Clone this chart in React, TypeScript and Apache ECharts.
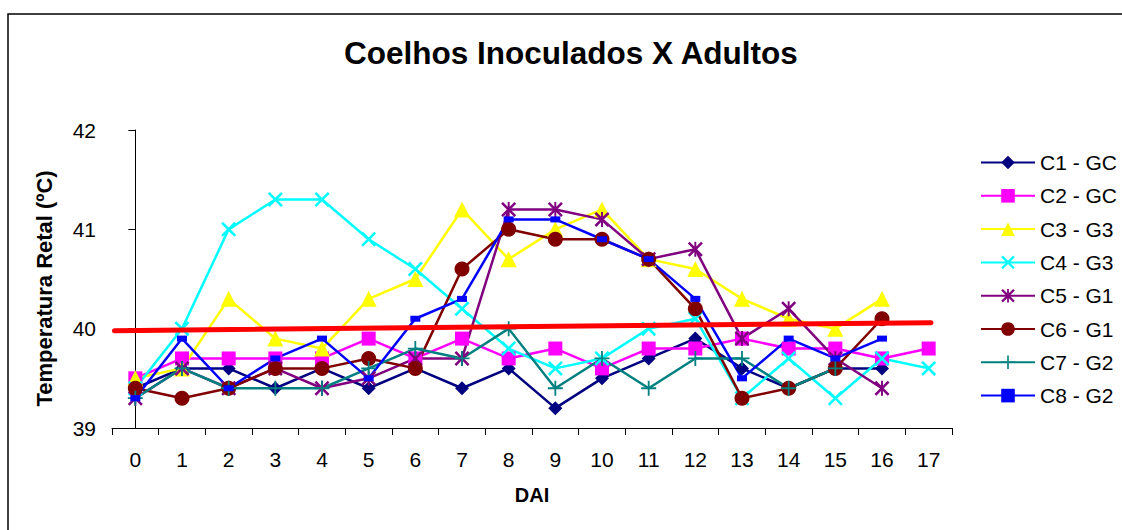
import React, { useEffect, useRef } from "react";
import * as echarts from "echarts";

const categories = ["0","1","2","3","4","5","6","7","8","9","10","11","12","13","14","15","16","17"];
const c1 = [39.4, 39.6, 39.6, 39.4, 39.6, 39.4, 39.6, 39.4, 39.6, 39.2, 39.5, 39.7, 39.9, 39.6, 39.4, 39.6, 39.6, null];
const c2 = [39.5, 39.7, 39.7, 39.7, 39.7, 39.9, 39.7, 39.9, 39.7, 39.8, 39.6, 39.8, 39.8, 39.9, 39.8, 39.8, 39.7, 39.8];
const c3 = [39.5, 39.6, 40.3, 39.9, 39.8, 40.3, 40.5, 41.2, 40.7, 41.0, 41.2, 40.7, 40.6, 40.3, 40.1, 40.0, 40.3, null];
const c4 = [39.4, 40.0, 41.0, 41.3, 41.3, 40.9, 40.6, 40.2, 39.8, 39.6, 39.7, 40.0, 40.1, 39.3, 39.7, 39.3, 39.7, 39.6];
const c5 = [39.3, 39.6, 39.4, 39.6, 39.4, 39.5, 39.7, 39.7, 41.2, 41.2, 41.1, 40.7, 40.8, 39.9, 40.2, 39.7, 39.4, null];
const c6 = [39.4, 39.3, 39.4, 39.6, 39.6, 39.7, 39.6, 40.6, 41.0, 40.9, 40.9, 40.7, 40.2, 39.3, 39.4, 39.6, 40.1, null];
const c7 = [39.3, 39.6, 39.4, 39.4, 39.4, 39.6, 39.8, 39.7, 40.0, 39.4, 39.7, 39.4, 39.7, 39.7, 39.4, 39.6, null, null];
const c8 = [39.3, 39.9, 39.4, 39.7, 39.9, 39.5, 40.1, 40.3, 41.1, 41.1, 40.9, 40.7, 40.3, 39.5, 39.9, 39.7, 39.9, null];
const seriesNames = ["C1 - GC", "C2 - GC", "C3 - G3", "C4 - G3", "C5 - G1", "C6 - G1", "C7 - G2", "C8 - G2"];
const refLineX = [-0.45, 17.05];
const refLineY = [39.98, 40.06];
const yTicks = [39, 40, 41, 42];

const X_PATH = "path://M0,1.2 L1.2,0 L5,3.8 L8.8,0 L10,1.2 L6.2,5 L10,8.8 L8.8,10 L5,6.2 L1.2,10 L0,8.8 L3.8,5 Z";
const STAR_PATH = "path://M0,1.2 L1.2,0 L5,3.8 L8.8,0 L10,1.2 L6.2,5 L10,8.8 L8.8,10 L5,6.2 L1.2,10 L0,8.8 L3.8,5 Z M4.35,0 L5.65,0 L5.65,10 L4.35,10 Z";
const PLUS_PATH = "path://M4.4,0 L5.6,0 L5.6,4.4 L10,4.4 L10,5.6 L5.6,5.6 L5.6,10 L4.4,10 L4.4,5.6 L0,5.6 L0,4.4 L4.4,4.4 Z";

export default function App() {
  const ref = useRef<HTMLDivElement>(null);
  useEffect(() => {
    if (!ref.current) return;
    const chart = echarts.init(ref.current, null, { renderer: "svg" });
    const datas = [c1, c2, c3, c4, c5, c6, c7, c8];
    const colors = ["#000080", "#FF00FF", "#FFFF00", "#00FFFF", "#800080", "#800000", "#008080", "#0000FF"];
    const symbols = ["diamond", "rect", "triangle", X_PATH, STAR_PATH, "circle", PLUS_PATH, "rect"];
    const sizes: any[] = [14, 14, 16, 15, 15, 15, 15, [10, 6]];
    const series: any[] = datas.map((d, i) => ({
      name: seriesNames[i],
      type: "line",
      data: d,
      xAxisIndex: 0,
      yAxisIndex: 0,
      symbol: symbols[i],
      symbolSize: sizes[i],
      showAllSymbol: true,
      connectNulls: false,
      color: colors[i],
      lineStyle: { width: 2.5, color: colors[i] },
      itemStyle: { color: colors[i], opacity: 1 },
      emphasis: { disabled: true },
    }));
    series.push({
      name: "ref",
      type: "line",
      xAxisIndex: 1,
      yAxisIndex: 0,
      data: refLineX.map((x, i) => [x, refLineY[i]]),
      symbol: "none",
      lineStyle: { width: 5, color: "#FF0000", cap: "round" },
      color: "#FF0000",
      z: 5,
    });
    chart.setOption({
      animation: false,
      backgroundColor: "#FFFFFF",
      textStyle: { fontFamily: "Liberation Sans, Arial, sans-serif" },
      title: {
        text: "Coelhos Inoculados X Adultos",
        left: 339,
        top: 32,
        textStyle: { fontSize: 31.5, fontWeight: "bold", color: "#000", fontFamily: "Liberation Sans, Arial, sans-serif" },
      },
      graphic: [
        {
          type: "rect",
          shape: { x: 8, y: 14, width: 1130, height: 540 },
          style: { fill: "none", stroke: "#000", lineWidth: 1.5 },
          silent: true,
          z: -1,
        },
      ],
      legend: {
        data: seriesNames,
        orient: "vertical",
        left: 980,
        top: 152,
        padding: 0,
        itemWidth: 54,
        itemHeight: 17,
        itemGap: 12.3,
        textStyle: { fontSize: 21, color: "#000", fontFamily: "Liberation Sans, Arial, sans-serif" },
      },
      grid: { left: 112, top: 130, right: 170, bottom: 102, containLabel: false },
      xAxis: [
        {
          type: "category",
          data: categories,
          boundaryGap: true,
          name: "DAI",
          nameLocation: "middle",
          nameGap: 57,
          nameTextStyle: { fontSize: 20, fontWeight: "bold", color: "#000" },
          axisLine: { lineStyle: { color: "#000", width: 1 } },
          axisTick: { show: true, length: 7, lineStyle: { color: "#000" }, interval: 0 },
          axisLabel: { fontSize: 21, color: "#000", margin: 21, interval: 0 },
          splitLine: { show: false },
        },
        {
          type: "value",
          show: false,
          min: -0.5,
          max: 17.5,
        },
      ],
      yAxis: {
        type: "value",
        min: yTicks[0],
        max: yTicks[yTicks.length - 1],
        interval: 1,
        name: "Temperatura Retal (ºC)",
        nameLocation: "middle",
        nameGap: 57,
        nameTextStyle: { fontSize: 22, fontWeight: "bold", color: "#000", padding: [0, 19, 0, 0] },
        axisLine: { show: true, lineStyle: { color: "#000", width: 1 } },
        axisTick: { show: true, length: 7, lineStyle: { color: "#000" } },
        axisLabel: { fontSize: 21, color: "#000", margin: 16 },
        splitLine: { show: false },
      },
      series,
    });
    return () => chart.dispose();
  }, []);
  return <div ref={ref} style={{ position: "fixed", left: 0, top: 0, width: 1122, height: 530 }} />;
}
